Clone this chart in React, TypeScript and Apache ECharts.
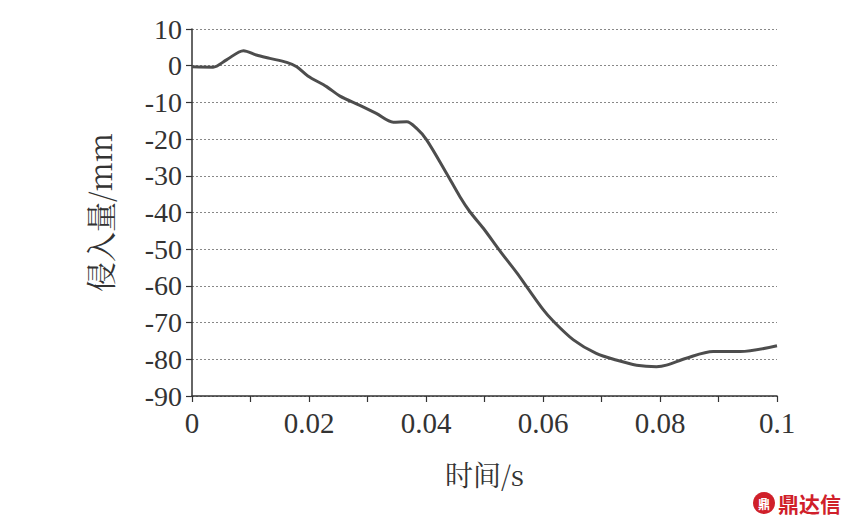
import React, { useEffect, useRef } from "react";
import * as echarts from "echarts";

const timeS = [0, 0.0036, 0.0059, 0.0088, 0.011, 0.0133, 0.0162, 0.0179, 0.0198, 0.023, 0.0253, 0.0287, 0.0315, 0.0344, 0.0367, 0.0384, 0.0401, 0.0435, 0.0458, 0.0475, 0.0498, 0.0526, 0.0555, 0.0572, 0.06, 0.0617, 0.0652, 0.0691, 0.0725, 0.076, 0.0794, 0.0811, 0.0845, 0.0891, 0.0937, 0.1];
const intrusionMm = [-0.3, -0.4, 1.6, 4.1, 2.9, 2.0, 0.9, -0.3, -2.8, -5.7, -8.3, -10.8, -13, -15.4, -15.3, -17.1, -20.2, -29.3, -35.7, -39.8, -44.3, -50.4, -56.4, -60.2, -66.4, -69.5, -74.7, -78.4, -80.2, -81.6, -82, -81.6, -79.7, -77.9, -77.9, -76.3];
const xTicks = [0, 0.02, 0.04, 0.06, 0.08, 0.1];
const yTicks = [10, 0, -10, -20, -30, -40, -50, -60, -70, -80, -90];

export default function App() {
  const ref = useRef<HTMLDivElement>(null);
  useEffect(() => {
    const chart = echarts.init(ref.current!, null, { renderer: "svg" });
    const serif = "Liberation Serif";
    const cjk = "Noto Serif CJK SC";
    chart.setOption({
      animation: false,
      backgroundColor: "#ffffff",
      textStyle: { fontFamily: serif },
      grid: { left: 192, right: 76, top: 29, bottom: 131, containLabel: false },
      xAxis: {
        type: "value",
        min: xTicks[0],
        max: xTicks[xTicks.length - 1],
        interval: 0.02,
        name: "时间/s",
        nameLocation: "middle",
        nameGap: 64,
        nameTextStyle: { fontFamily: cjk, fontSize: 28, color: "#333" },
        axisLine: { onZero: false, lineStyle: { color: "#333", width: 1.5 } },
        axisTick: { show: true, length: 6, lineStyle: { color: "#333", width: 1.2 } },
        minorTick: { show: true, splitNumber: 2, length: 6, lineStyle: { color: "#333", width: 1.2 } },
        axisLabel: {
          margin: 12,
          fontFamily: serif,
          fontSize: 29,
          color: "#333",
          formatter: (v: number) => (Math.abs(v) < 1e-9 ? "0" : String(+v.toFixed(2))),
        },
        splitLine: { show: false },
      },
      yAxis: {
        type: "value",
        min: yTicks[yTicks.length - 1],
        max: yTicks[0],
        interval: 10,
        name: "侵入量/mm",
        nameLocation: "middle",
        nameGap: 78,
        nameTextStyle: { fontFamily: cjk, fontSize: 30, color: "#333" },
        axisLine: { show: true, onZero: false, lineStyle: { color: "#333", width: 1.5 } },
        axisTick: { show: true, length: 6, lineStyle: { color: "#333", width: 1.2 } },
        axisLabel: { margin: 10, fontFamily: serif, fontSize: 28, color: "#333" },
        splitLine: { show: true, lineStyle: { color: "#888", width: 1, type: [2, 2] } },
      },
      series: [
        {
          type: "line",
          data: timeS.map((t, i) => [t, intrusionMm[i]]),
          smooth: 0.3,
          showSymbol: false,
          lineStyle: { color: "#4d4d4d", width: 3 },
        },
      ],
      graphic: [
        { type: "circle", shape: { cx: 764, cy: 503, r: 11 }, style: { fill: "#d0202a" } },
        { type: "text", x: 764, y: 503, style: { text: "鼎", fill: "#fff", font: "bold 12px 'Noto Sans CJK SC'", textAlign: "center", textVerticalAlign: "middle" } },
        { type: "text", x: 778, y: 503, style: { text: "鼎达信", fill: "#d0202a", font: "bold 21px 'Noto Sans CJK SC'", textVerticalAlign: "middle" } },
      ],
    });
    return () => chart.dispose();
  }, []);
  return <div ref={ref} style={{ width: 853, height: 527, position: "absolute", left: 0, top: 0 }} />;
}
